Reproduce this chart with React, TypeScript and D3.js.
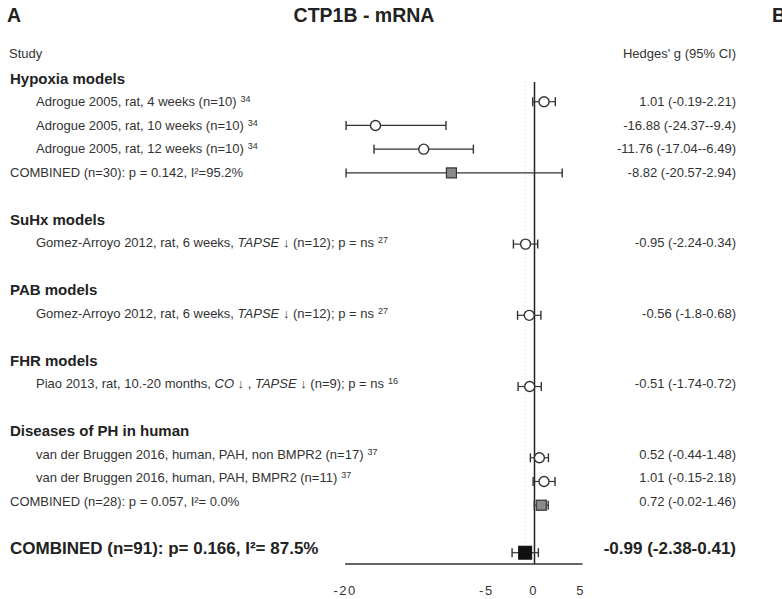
import React from "react";
import * as d3 from "d3";

const groupNames = ["Hypoxia models", "SuHx models", "PAB models", "FHR models", "Diseases of PH in human"];
const groupRows = [1, 7, 10, 13, 16];

const studyRows = [2, 3, 4, 5, 8, 11, 14, 17, 18, 19, 21];
const studyLabels = [
  "Adrogue 2005, rat, 4 weeks (n=10)",
  "Adrogue 2005, rat, 10 weeks (n=10)",
  "Adrogue 2005, rat, 12 weeks (n=10)",
  "COMBINED (n=30): p = 0.142, I²=95.2%",
  "Gomez-Arroyo 2012, rat, 6 weeks, *TAPSE* ↓ (n=12); p = ns",
  "Gomez-Arroyo 2012, rat, 6 weeks, *TAPSE* ↓ (n=12); p = ns",
  "Piao 2013, rat, 10.-20 months, *CO* ↓ , *TAPSE* ↓ (n=9); p = ns",
  "van der Bruggen 2016, human, PAH, non BMPR2 (n=17)",
  "van der Bruggen 2016, human, PAH, BMPR2 (n=11)",
  "COMBINED (n=28): p = 0.057, I²= 0.0%",
  "COMBINED (n=91): p= 0.166, I²= 87.5%",
];
const studyRefs = ["34", "34", "34", "", "27", "27", "16", "37", "37", "", ""];
const studyKinds = ["study", "study", "study", "subtotal", "study", "study", "study", "study", "study", "subtotal", "total"];
const estimates = [1.01, -16.88, -11.76, -8.82, -0.95, -0.56, -0.51, 0.52, 1.01, 0.72, -0.99];
const lowerCI = [-0.19, -24.37, -17.04, -20.57, -2.24, -1.8, -1.74, -0.44, -0.15, -0.02, -2.38];
const upperCI = [2.21, -9.4, -6.49, 2.94, 0.34, 0.68, 0.72, 1.48, 2.18, 1.46, 0.41];
const ciLabels = [
  "1.01 (-0.19-2.21)",
  "-16.88 (-24.37--9.4)",
  "-11.76 (-17.04--6.49)",
  "-8.82 (-20.57-2.94)",
  "-0.95 (-2.24-0.34)",
  "-0.56 (-1.8-0.68)",
  "-0.51 (-1.74-0.72)",
  "0.52 (-0.44-1.48)",
  "1.01 (-0.15-2.18)",
  "0.72 (-0.02-1.46)",
  "-0.99 (-2.38-0.41)",
];
const axisTicks = [-20, -5, 0, 5];
const overallEstimate = -0.99;

const FONT = "'Liberation Sans', Arial, Helvetica, sans-serif";

function renderLabel(s: string) {
  const parts = s.split(/(\*[^*]+\*)/).filter(Boolean);
  return parts.map((p, i) =>
    p.startsWith("*") ? (
      <tspan key={i} fontStyle="italic">{p.slice(1, -1)}</tspan>
    ) : (
      <tspan key={i}>{p}</tspan>
    )
  );
}

export default function App() {
  const W = 782, H = 599;
  const x = d3.scaleLinear().domain([-20, 5]).range([346.1, 581.6]).clamp(true);
  const rowText = d3.scaleLinear().domain([1, 21]).range([78.3, 548.3]);
  const rowMark = d3.scaleLinear().domain([2, 21]).range([101.7, 552.7]);
  const axisY = 564;
  const lineTop = 82;
  const dark = "#222";
  const cap = 4.5;

  return (
    <svg width={W} height={H} style={{ position: "absolute", left: 0, top: 0, background: "#fff" }} fontFamily={FONT}>
      <rect width={W} height={H} fill="#fff" />
      <text x={7} y={22} fontSize={19.5} fontWeight="bold" fill={dark}>A</text>
      <text x={364} y={22} fontSize={19.5} fontWeight="bold" fill={dark} textAnchor="middle">CTP1B - mRNA</text>
      <text x={772} y={22} fontSize={19.5} fontWeight="bold" fill={dark}>B</text>

      <text x={9} y={57.5} fontSize={13} fill="#333">Study</text>
      <text x={736} y={57.5} fontSize={13} fill="#333" textAnchor="end">Hedges' g (95% CI)</text>

      {groupNames.map((g, i) => (
        <text key={g} x={10} y={rowText(groupRows[i]) + 5.4} fontSize={15} fontWeight="bold" fill={dark}>{g}</text>
      ))}

      {/* reference lines */}
      <line x1={x(overallEstimate)} x2={x(overallEstimate)} y1={lineTop} y2={axisY} stroke="#ddd" strokeWidth={1} strokeDasharray="1,3" />
      <line x1={x(0)} x2={x(0)} y1={lineTop} y2={axisY} stroke={dark} strokeWidth={1.5} />

      {studyRows.map((r, i) => {
        const kind = studyKinds[i];
        const isTotal = kind === "total";
        const fs = isTotal ? 17 : 13;
        const ty = rowText(r) + (isTotal ? 6 : 4.6);
        const tx = kind === "study" ? 36 : 10;
        const my = rowMark(r);
        const x0 = x(lowerCI[i]);
        const x1 = x(upperCI[i]);
        const xe = x(estimates[i]);
        return (
          <g key={i}>
            <text x={tx} y={ty} fontSize={fs} fontWeight={isTotal ? "bold" : "normal"} fill={isTotal ? dark : "#333"}>
              {renderLabel(studyLabels[i])}
              {studyRefs[i] ? (
                <tspan dx={4} dy={-4} fontSize={9}>{studyRefs[i]}</tspan>
              ) : null}
            </text>
            <text x={736} y={ty} fontSize={fs} fontWeight={isTotal ? "bold" : "normal"} fill={isTotal ? dark : "#333"} textAnchor="end">
              {ciLabels[i]}
            </text>
            <line x1={x0} x2={x1} y1={my} y2={my} stroke="#333" strokeWidth={1.2} />
            <line x1={x0} x2={x0} y1={my - cap} y2={my + cap} stroke="#333" strokeWidth={1.4} />
            <line x1={x1} x2={x1} y1={my - cap} y2={my + cap} stroke="#333" strokeWidth={1.4} />
            {kind === "study" && (
              <circle cx={xe} cy={my} r={5} fill="#fff" stroke="#333" strokeWidth={1.4} />
            )}
            {kind === "subtotal" && (
              <rect x={xe - 5} y={my - 5} width={10} height={10} fill="#8a8a8a" stroke="#333" strokeWidth={1.2} />
            )}
            {kind === "total" && (
              <rect x={xe - 6.5} y={my - 6.5} width={13} height={13} fill="#111" stroke="#111" strokeWidth={1} />
            )}
          </g>
        );
      })}

      {/* axis */}
      <line x1={x(-20) - 1} x2={x(5) + 1} y1={axisY} y2={axisY} stroke="#333" strokeWidth={1.4} />
      {axisTicks.map((t) => (
        <text key={t} x={x(t) - 1} y={594.5} fontSize={13} fill="#333" textAnchor="middle" letterSpacing={1.5}>
          {String(t)}
        </text>
      ))}
    </svg>
  );
}
